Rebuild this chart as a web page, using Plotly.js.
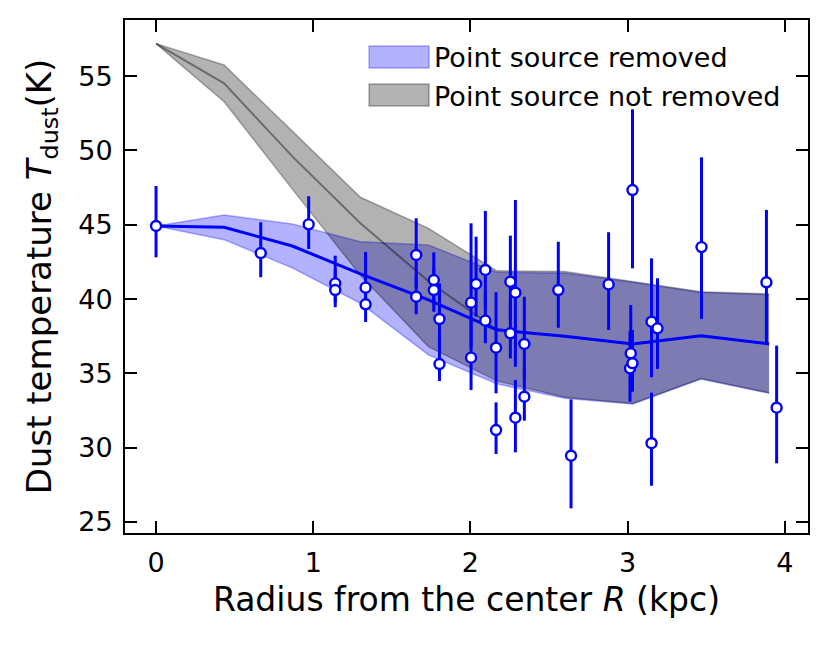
<!DOCTYPE html>
<html>
<head>
<meta charset="utf-8">
<script src="https://cdn.plot.ly/plotly-3.0.1.min.js"></script>
<style>
  html, body { margin: 0; padding: 0; background: #fff; }
  #chart { width: 831px; height: 651px; }
</style>
</head>
<body>
<div id="chart"></div>
<script>
// radial bins of the profiles (kpc)
const binR = [0, 0.433, 0.867, 1.3, 1.733, 2.167, 2.6, 3.033, 3.467, 3.9];

// point source removed: 16/50/84 percentile band
const removedHi  = [44.92, 45.65, 45.05, 43.86, 43.64, 41.8, 41.75, 41.13, 40.45, 40.3];
const removedMid = [44.92, 44.83, 43.57, 41.7, 39.95, 37.93, 37.5, 36.98, 37.54, 36.98];
const removedLo  = [44.92, 44.0, 42.1, 39.72, 36.24, 34.3, 33.33, 32.94, 34.62, 33.66];

// point source not removed
const keptHi  = [57.19, 55.75, 51.3, 46.85, 44.76, 41.9, 41.85, 41.2, 40.5, 40.35];
const keptMid = [57.19, 54.52, 49.6, 45.1, 41.2, 37.95, 37.5, 36.98, 37.54, 36.98];
const keptLo  = [57.19, 53.28, 47.4, 41.6, 36.8, 34.5, 33.4, 32.98, 34.65, 33.7];

// individual regions
const ptR    = [0.0, 0.666, 0.971, 1.14, 1.14, 1.333, 1.333, 1.655, 1.655, 1.767, 1.767, 1.803, 1.803,
                2.004, 2.004, 2.036, 2.095, 2.095, 2.163, 2.163, 2.254, 2.254, 2.286, 2.286, 2.343, 2.343,
                2.559, 2.64, 2.879, 3.02, 3.015, 3.031, 3.031, 3.152, 3.152, 3.19, 3.47, 3.883, 3.948];
const ptT    = [44.92, 43.1, 45.03, 41.06, 40.61, 40.77, 39.65, 42.97, 40.16, 41.28, 40.61, 38.66, 35.63,
                39.76, 36.06, 41.02, 41.96, 38.55, 36.73, 31.19, 41.17, 37.7, 40.43, 32.02, 36.98, 33.43,
                40.61, 29.46, 40.99, 36.35, 35.34, 35.68, 47.34, 38.48, 30.3, 38.03, 43.5, 41.13, 32.69];
const ptErrUp = [2.69, 2.07, 1.89, 1.86, 1.4, 2.4, 1.5, 2.47, 1.5, 1.87, 1.5, 2.4, 1.8,
                 5.34, 2.5, 3.18, 3.97, 2.0, 3.73, 1.86, 3.1, 2.2, 6.24, 2.54, 3.18, 2.0,
                 3.25, 3.79, 3.51, 3.25, 2.5, 2.24, 5.43, 4.26, 3.4, 3.37, 6.04, 4.87, 4.18];
const ptErrDn = [2.11, 1.63, 1.66, 1.3, 1.16, 1.5, 1.19, 2.2, 1.18, 1.5, 1.46, 2.0, 1.14,
                 3.0, 2.18, 2.2, 2.5, 1.52, 3.07, 1.61, 2.5, 1.69, 4.98, 2.33, 2.5, 1.61,
                 2.54, 3.54, 3.07, 2.5, 2.24, 1.91, 5.27, 3.74, 2.86, 2.73, 4.84, 4.22, 3.74];

const FONT = 'DejaVu Sans, Liberation Sans, sans-serif';
const blueFill = 'rgba(0,0,255,0.3)';
const greyFill = 'rgba(0,0,0,0.3)';

const traces = [
    { x: binR, y: removedLo, mode: 'lines', line: { color: 'rgba(0,0,255,0.3)', width: 1.5 },
      showlegend: false, hoverinfo: 'skip' },
    { x: binR, y: removedHi, mode: 'lines', fill: 'tonexty', fillcolor: blueFill,
      line: { color: 'rgba(0,0,255,0.3)', width: 1.5 }, name: 'Point source removed' },
    { x: binR, y: keptLo, mode: 'lines', line: { color: 'rgba(0,0,0,0.3)', width: 1.5 },
      showlegend: false, hoverinfo: 'skip' },
    { x: binR, y: keptHi, mode: 'lines', fill: 'tonexty', fillcolor: greyFill,
      line: { color: 'rgba(0,0,0,0.3)', width: 1.5 }, name: 'Point source not removed' },
    { x: binR, y: keptMid, mode: 'lines', line: { color: 'rgba(0,0,0,0.4)', width: 2 },
      showlegend: false },
    { x: binR, y: removedMid, mode: 'lines', line: { color: '#0000ff', width: 3 },
      showlegend: false },
    {
        x: ptR, y: ptT, mode: 'markers', showlegend: false,
        marker: { symbol: 'circle', size: 10, color: '#ffffff', line: { color: '#0000ff', width: 2.4 } },
        error_y: { type: 'data', symmetric: false, array: ptErrUp, arrayminus: ptErrDn,
                   color: '#0000ff', thickness: 3, width: 0 }
    }
];

const axisCommon = {
    showline: true, linecolor: '#000', linewidth: 2, mirror: 'ticks',
    ticks: 'inside', ticklen: 12, tickwidth: 2, tickcolor: '#000',
    showgrid: false, zeroline: false,
    tickfont: { family: FONT, size: 27, color: '#000' },
    ticklabelstandoff: 5
};

const layout = {
    width: 831, height: 651,
    paper_bgcolor: '#fff', plot_bgcolor: '#fff',
    margin: { l: 125, r: 23, t: 20, b: 118 },
    font: { family: FONT, color: '#000' },
    xaxis: Object.assign({}, axisCommon, {
        range: [-0.1975, 4.1475], tickvals: [0, 1, 2, 3, 4],
        title: { text: 'Radius from the center <i>R</i> (kpc)', font: { family: FONT, size: 33 }, standoff: 10 }
    }),
    yaxis: Object.assign({}, axisCommon, {
        range: [24.26, 58.78], tickvals: [25, 30, 35, 40, 45, 50, 55],
        title: { text: 'Dust temperature <i>T</i><sub>dust</sub>(K)', font: { family: FONT, size: 34 }, standoff: 16 }
    }),
    legend: {
        x: 0.35, y: 0.975, xanchor: 'left', yanchor: 'top',
        bgcolor: 'rgba(0,0,0,0)', borderwidth: 0, traceorder: 'normal',
        font: { family: FONT, size: 27, color: '#000' },
        itemwidth: 60, tracegroupgap: 0
    },
    showlegend: true
};

Plotly.newPlot('chart', traces, layout, { displayModeBar: false, staticPlot: true }).then(gd => {
    // matplotlib-style legend patches: taller boxes instead of thin strips
    const box = 'M5,-11h60v22h-60z';
    gd.querySelectorAll('.legend .legendfill path').forEach(p => p.setAttribute('d', box));
    gd.querySelectorAll('.legend .legendlines path').forEach(p => {
        p.setAttribute('d', box);
        p.style.fill = 'none';
    });
});
</script>
</body>
</html>
